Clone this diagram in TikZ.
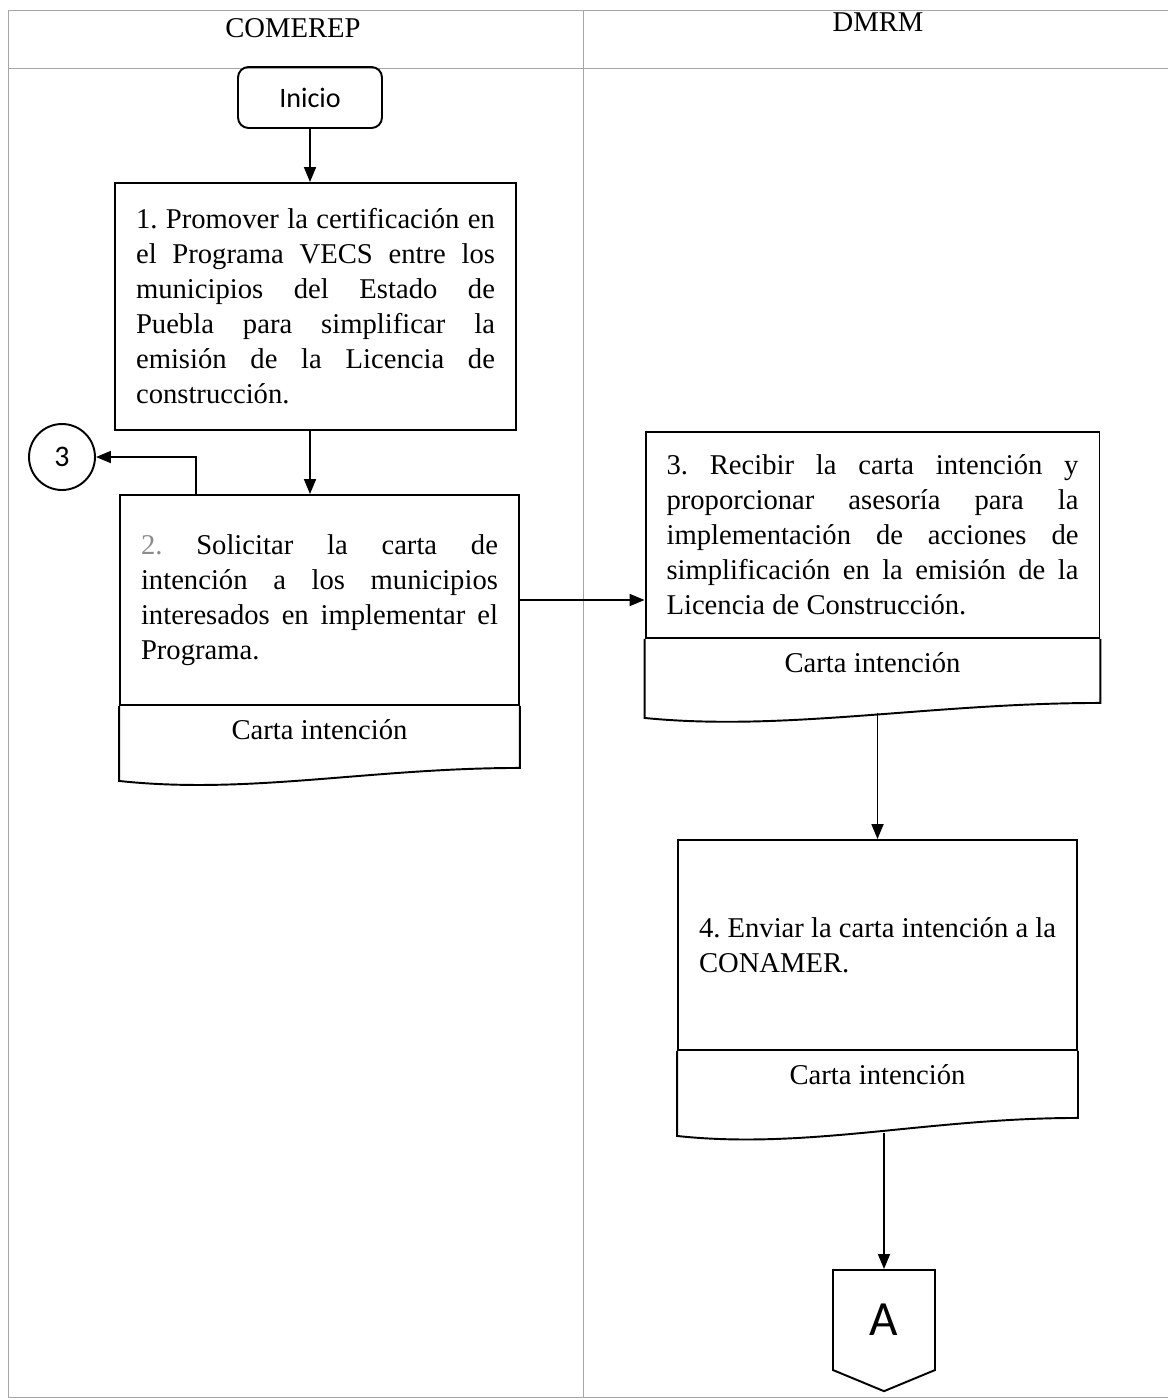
\documentclass[tikz,border=0pt]{standalone}
\usepackage{fontspec}
\setmainfont{Liberation Serif}
\newfontfamily\calibri{Carlito}
\frenchspacing
\usepackage{tikz}
\usetikzlibrary{arrows.meta, positioning, shapes.symbols, calc}

\begin{document}
\begin{tikzpicture}[
                x=0.02cm, y=-0.02cm,
                every node/.style={font=\fontsize{16.3}{19.9}\selectfont},
                carril/.style={draw=black!35, line width=0.5pt},
                caja/.style={draw, rectangle, line width=1.1pt, align=justify, inner xsep=0.42cm},
                borde/.style={line width=1.1pt},
                flecha/.style={-{Triangle[length=3mm,width=2.4mm]}, line width=1pt}
            ]

            \useasboundingbox (0,0) rectangle (1168,1400);

            % Carriles
            \draw[carril] (1168,10) -- (8,10) -- (8,1397) -- (1168,1397);
            \draw[carril] (8,68) -- (1168,68);
            \draw[carril] (583,10) -- (583,1397);
            \node (comerep) at (293,28) {COMEREP};
            \node (dmrm) at (878,22) {DMRM};

            % Inicio
            \node[draw, line width=1.1pt, rounded corners=6pt, minimum width=2.88cm, minimum height=1.22cm,
                  font=\calibri\fontsize{16}{19}\selectfont] (ini) at (310,97.5) {Inicio};

            % Actividades
            \node[caja, text width=7.18cm, minimum height=4.94cm] (p1) at (315.5,306.5)
                {1. Promover la certificación en\linebreak el Programa VECS entre los\linebreak municipios del Estado de\linebreak Puebla para simplificar la\linebreak emisión de la Licencia de\linebreak construcción.};
            \node[caja, text width=7.14cm, minimum height=4.2cm] (p2) at (319.5,600)
                {\textcolor{black!45}{2.} Solicitar la carta de\linebreak intención a los municipios\linebreak interesados en implementar el\linebreak Programa.};
            \node[caja, text width=8.24cm, minimum height=4.12cm] (p3) at (872.5,535)
                {3. Recibir la carta intención y\linebreak proporcionar asesoría para la\linebreak implementación de acciones de\linebreak simplificación en la emisión de la\linebreak Licencia de Construcción.};
            \node[caja, align=left, minimum width=7.9cm, minimum height=4.2cm] (p4) at (877.5,945)
                {4. Enviar la carta intención a la\\CONAMER.};

            % Documentos
            \draw[borde] (p2.south west) -- ++(0,75) .. controls +(130,14) and +(-150,0) .. ($(p2.south east)+(0,62)$) -- (p2.south east);
            \draw[borde] (p3.south west) -- ++(0,79) .. controls +(140,14) and +(-170,0) .. ($(p3.south east)+(0,64)$) -- (p3.south east);
            \draw[borde] (p4.south west) -- ++(0,85) .. controls +(130,14) and +(-150,0) .. ($(p4.south east)+(0,67)$) -- (p4.south east);
            \node[below=0.15cm of p2] (d2) {Carta intención};
            \node[below=0.15cm of p3] (d3) {Carta intención};
            \node[below=0.15cm of p4] (d4) {Carta intención};
            \coordinate (b3) at ($(p3.south)+(0,74)$);
            \coordinate (b4) at ($(p4.south)+(0,82)$);

            % Conectores
            \node[draw, circle, line width=1.1pt, minimum size=1.32cm, inner sep=0pt,
                  font=\calibri\fontsize{17}{19}\selectfont] (c3) at (62,457) {3};
            \node[draw, signal, signal to=south, signal pointer angle=135, line width=1.1pt,
                  minimum width=2.04cm, minimum height=2.12cm, inner sep=0pt,
                  font=\calibri\fontsize{28}{30}\selectfont] (conA) at (884,1320) {A};

            % Flechas
            \draw[flecha] (ini.south) -- (ini.south |- p1.north);
            \draw[flecha] (p1.south -| ini.south) -- (ini.south |- p2.north);
            \draw[flecha] ($(p2.north west)+(77,0)$) |- (c3);
            \draw[flecha] (p2.east) -- (p2.east -| p3.west);
            \draw[flecha] (b3 -| p4.north) -- (p4.north);
            \draw[flecha] (b4 -| conA.north) -- (conA.north);

        \end{tikzpicture}
\end{document}
